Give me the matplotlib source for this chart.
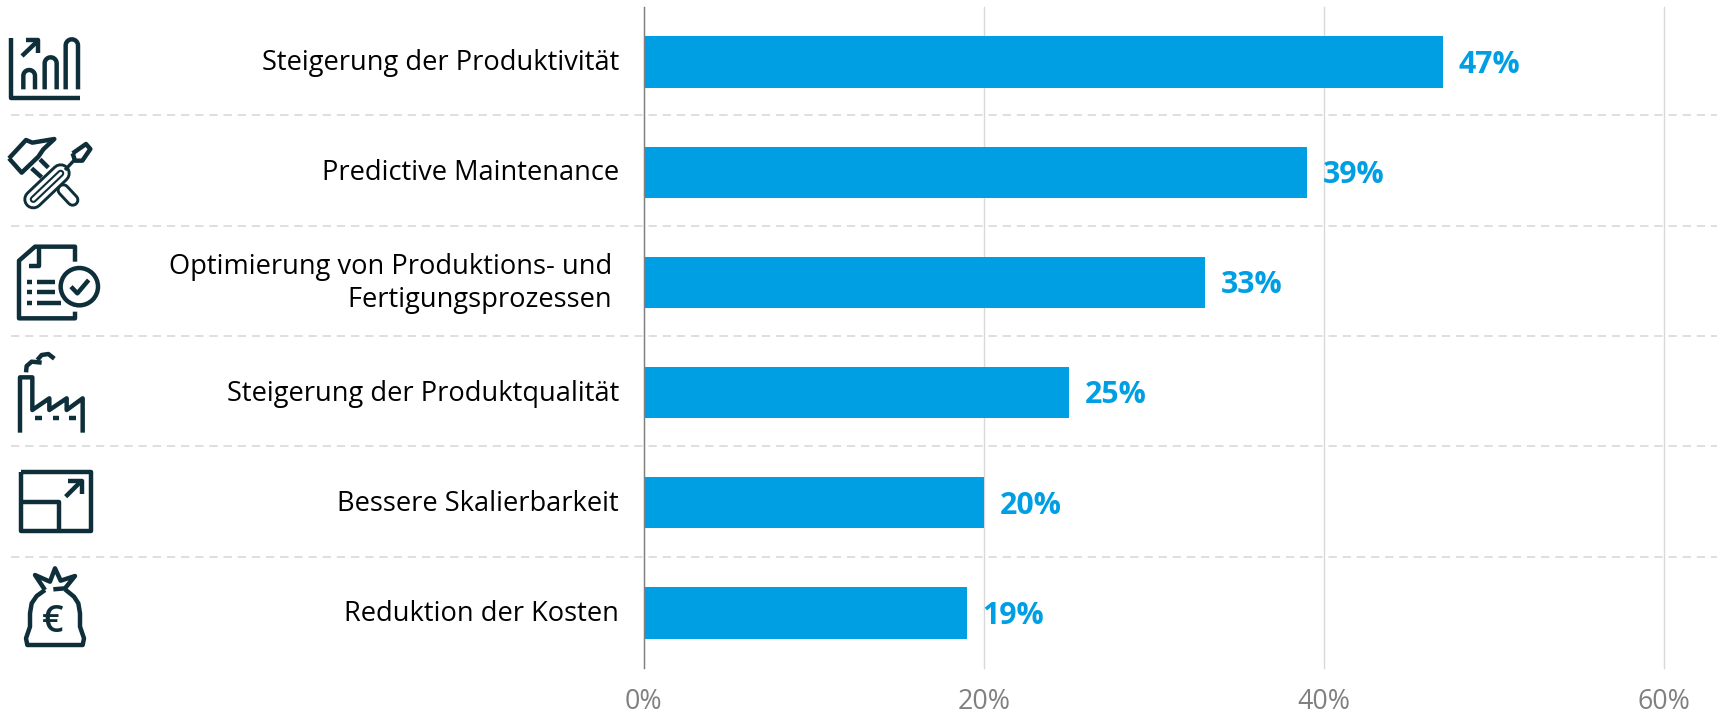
import numpy as np
import matplotlib.pyplot as plt

# Chart data
categories = ['Steigerung der Produktivität', 'Predictive Maintenance',
              'Optimierung von Produktions- und \nFertigungsprozessen ',
              'Steigerung der Produktqualität', 'Bessere Skalierbarkeit',
              'Reduktion der Kosten']
values = [47, 39, 33, 25, 20, 19]
x_ticks = [0, 20, 40, 60]

BLUE = '#009fe3'
DARK = '#0e2f3a'
GRID = '#d9d9d9'
GRAY = '#808080'

plt.rcParams['font.family'] = 'Open Sans'

W, H = 1717, 711
fig = plt.figure(figsize=(W / 100, H / 100), dpi=100)
ax = fig.add_axes([643.7 / W, (H - 668) / H, 1020 / W, 661 / H])
ax.patch.set_alpha(0)

# Bars and value labels
pos = np.arange(len(categories))
ax.barh(pos, values, height=0.467, color=BLUE, zorder=3)
for p, v in zip(pos, values):
    ax.annotate(f'{v}%', (v, p), xytext=(11.5, -2), textcoords='offset points',
                color=BLUE, fontsize=21.8, fontweight='bold', va='center', ha='left', zorder=4)

# Axes styling
ax.set_xlim(0, 60)
ax.set_ylim(len(categories) - 0.5, -0.5)
ax.set_xticks(x_ticks)
ax.set_xticklabels([f'{t}%' for t in x_ticks], color=GRAY, fontsize=19.3)
ax.tick_params(axis='x', length=0, pad=14.5)
ax.tick_params(axis='y', length=0)
ax.set_yticks([])
ax.grid(axis='x', color=GRID, linewidth=1, zorder=0, clip_on=False)
for s in ['top', 'right', 'bottom']:
    ax.spines[s].set_visible(False)
ax.spines['left'].set_color(GRAY)
ax.spines['left'].set_linewidth(1)
ax.spines['left'].set_zorder(5)

# Overlay in pixel coordinates for category labels, separators and icons
ov = fig.add_axes([0, 0, 1, 1], zorder=-1)
ov.set_xlim(0, W)
ov.set_ylim(H, 0)
ov.axis('off')

for p, c in zip(pos, categories):
    ov.text(619, 62 + 110.2 * p + 1, c, ha='right', va='center', color='black',
            fontsize=19.6, linespacing=1.22)

for p in pos[:-1]:
    y = 115.3 + 110.3 * p
    ov.plot([11, W], [y, y], color=GRID, linewidth=1.2, dashes=(5, 3.5))


def line(pts, dy=0, lw=3.2, color=DARK, close=False):
    pts = np.array(pts, dtype=float)
    if close:
        pts = np.vstack([pts, pts[0]])
    ov.plot(pts[:, 0] / 3, pts[:, 1] / 3 + dy, color=color, linewidth=lw,
            solid_capstyle='butt', solid_joinstyle='round')


def arch(x0, x1, top, bottom):
    r = (x1 - x0) / 2
    t = np.linspace(np.pi, 0, 20)
    pts = [(x0, bottom)] + list(zip(x0 + r + r * np.cos(t), top + r - r * np.sin(t))) + [(x1, bottom)]
    line(pts)


def capsule(a, b, widths):
    # nested round lines, dark and white in turn
    a = np.array(a) / 3
    b = np.array(b) / 3
    for i, lw in enumerate(widths):
        ov.plot([a[0], b[0]], [a[1], b[1]], color=DARK if i % 2 == 0 else 'white',
                linewidth=lw, solid_capstyle='round')


# Icon 1: bar chart
line([(33, 115), (33, 295), (240, 295)])
arch(70, 105, 210, 268)
arch(134, 170, 172, 268)
arch(197, 234, 118, 268)
line([(66, 168), (112, 124)])
line([(78, 121), (115, 121), (115, 158)])

# Icon 2: hammer and screwdriver
capsule((190, 570), (218, 600), [9.6, 5.4])
line([(95, 505), (125, 532)])
line([(120, 478), (145, 503)])
line([(27, 475), (78, 420), (97, 428), (163, 417), (130, 448), (115, 470), (65, 518)], close=True)
capsule((100, 598), (182, 520), [14.4, 10.2, 5.2, 2.2])
line([(195, 510), (225, 478)], lw=2.4)
line([(218, 460), (258, 432), (271, 447), (247, 482), (225, 482)], close=True)

# Icon 3: document with check mark
line([(225, 785), (225, 740), (105, 740), (57, 782), (57, 955), (225, 955), (225, 935)])
line([(118, 745), (118, 798), (88, 798)])
ov.add_patch(plt.Circle((238 / 3, 860 / 3), 56 / 3, fill=False, edgecolor=DARK, linewidth=3.2))
line([(213, 860), (232, 880), (266, 840)])
for yy, x_end in [(845, 165), (877, 165), (908, 182)]:
    line([(82, yy), (97, yy)])
    line([(112, yy), (x_end, yy)])

# Icon 4: factory
line([(60, 278), (60, 112), (97, 112), (97, 210), (148, 175), (148, 210), (200, 175),
      (200, 210), (248, 175), (248, 278)], dy=340)
for x0 in [105, 158, 208]:
    line([(x0, 235), (x0 + 20, 235)], dy=340)
line([(78, 97), (80, 78), (95, 65), (125, 68)], dy=340)
line([(112, 60), (125, 45), (145, 42), (163, 56)], dy=340)

# Icon 5: resize window
line([(62, 395), (272, 395), (272, 572), (62, 572)], dy=340, close=True)
line([(62, 487), (178, 487), (178, 572)], dy=340)
line([(197, 470), (245, 422)], dy=340)
line([(205, 422), (245, 422), (245, 462)], dy=340)

# Icon 6: money bag
line([(135, 750), (110, 768), (95, 790), (90, 820), (90, 860), (78, 895), (82, 915), (248, 915),
      (252, 895), (240, 860), (240, 820), (235, 790), (222, 770), (195, 748)], dy=340)
line([(160, 748), (195, 745), (225, 708), (182, 722), (165, 685), (150, 725), (105, 705), (135, 750)], dy=340)
ov.text(158 / 3, 846 / 3 + 340, '€', ha='center', va='center', color=DARK, fontsize=27,
        fontweight='semibold')

fig.savefig('out.png', dpi=100)
